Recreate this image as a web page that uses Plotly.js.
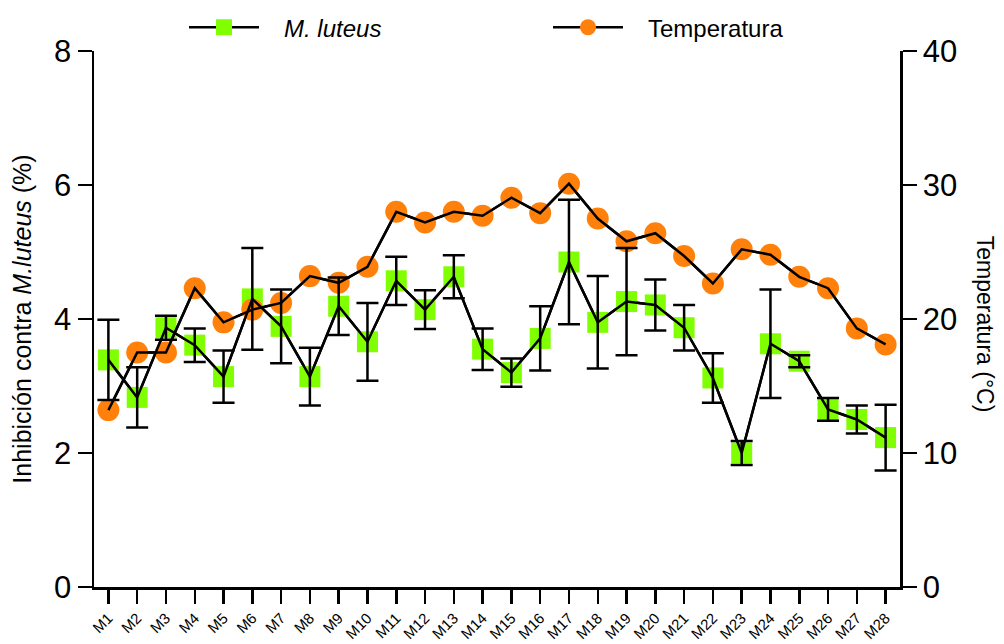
<!DOCTYPE html>
<html>
<head>
<meta charset="utf-8">
<script src="https://cdn.plot.ly/plotly-3.0.1.min.js"></script>
<style>html,body{margin:0;padding:0;background:#fff;}#chart{width:1004px;height:644px;}</style>
</head>
<body>
<div id="chart"></div>
<script>
const categories = ['M1','M2','M3','M4','M5','M6','M7','M8','M9','M10','M11','M12','M13','M14','M15','M16','M17','M18','M19','M20','M21','M22','M23','M24','M25','M26','M27','M28'];
const luteus = [3.39,2.83,3.87,3.61,3.14,4.30,3.89,3.14,4.19,3.66,4.57,4.14,4.63,3.55,3.20,3.71,4.85,3.95,4.26,4.21,3.87,3.12,2.00,3.63,3.37,2.65,2.50,2.23];
const luteusErr = [0.60,0.45,0.18,0.25,0.39,0.76,0.55,0.43,0.43,0.58,0.36,0.29,0.32,0.31,0.21,0.48,0.93,0.69,0.80,0.38,0.34,0.37,0.18,0.81,0.09,0.17,0.21,0.49];
const temperatura = [13.2,17.5,17.5,22.3,19.75,20.7,21.2,23.2,22.7,23.9,28.0,27.2,28.0,27.7,29.05,27.9,30.1,27.5,25.8,26.4,24.7,22.65,25.2,24.8,23.15,22.3,19.3,18.1];
const yTicks = [0,2,4,6,8];
const y2Ticks = [0,10,20,30,40];

const FONT = 'Liberation Sans, Arial, Helvetica, sans-serif';
const GREEN = '#80FF00';
const ORANGE = '#FF800A';
const LW = 2.5;

const traces = [
  {x: categories, y: luteus, yaxis: 'y', type: 'scatter', mode: 'lines+markers', legend: 'legend',
   name: '&nbsp;&nbsp;&nbsp;<i>M. luteus</i>', line: {color: '#000', width: LW},
   marker: {symbol: 'square', size: 21, color: GREEN}},
  {x: categories, y: temperatura, yaxis: 'y2', type: 'scatter', mode: 'lines+markers', legend: 'legend2',
   name: '&nbsp;&nbsp;&nbsp;Temperatura', line: {color: '#000', width: LW},
   marker: {symbol: 'circle', size: 22, color: ORANGE}},
  {x: categories, y: temperatura, yaxis: 'y2', type: 'scatter', mode: 'lines',
   showlegend: false, hoverinfo: 'skip', line: {color: '#000', width: LW}},
  {x: categories, y: luteus, yaxis: 'y3', type: 'scatter', mode: 'lines',
   showlegend: false, hoverinfo: 'skip', line: {color: '#000', width: LW},
   error_y: {type: 'data', array: luteusErr, visible: true, color: '#000', thickness: LW, width: 11}}
];

const legendBase = {orientation: 'h', xref: 'container', yref: 'container', y: 0.992,
  xanchor: 'left', yanchor: 'top', font: {size: 24, family: FONT}, itemwidth: 70,
  bgcolor: 'rgba(0,0,0,0)'};

const layout = {
  width: 1004, height: 644,
  margin: {l: 94, r: 104, t: 51, b: 57, pad: 0},
  paper_bgcolor: '#fff', plot_bgcolor: '#fff',
  font: {family: FONT, color: '#000'},
  showlegend: true,
  legend: Object.assign({}, legendBase, {x: 184 / 1004}),
  legend2: Object.assign({}, legendBase, {x: 548 / 1004}),
  xaxis: {type: 'category', range: [-0.5, 27.5], showgrid: false, zeroline: false,
          showline: true, linewidth: LW, linecolor: '#000', ticks: 'outside', ticklen: 14,
          tickwidth: LW, tickcolor: '#000', tickangle: -45, tickfont: {size: 15, family: FONT}},
  yaxis: {range: [0, 8], tickvals: yTicks, ticktext: yTicks.map(String), showgrid: false, zeroline: false,
          showline: true, linewidth: LW, linecolor: '#000', ticks: 'outside', ticklen: 14,
          tickwidth: LW, tickcolor: '#000', tickfont: {size: 31, family: FONT},
          title: {text: 'Inhibición contra <i>M.luteus</i> (%)', font: {size: 25, family: FONT}, standoff: 16}},
  yaxis2: {overlaying: 'y', side: 'right', range: [0, 40], tickvals: y2Ticks, ticktext: y2Ticks.map(String),
           showgrid: false, zeroline: false, showline: true, linewidth: LW, linecolor: '#000',
           ticks: 'outside', ticklen: 14, tickwidth: LW, tickcolor: '#000', tickfont: {size: 31, family: FONT}},
  yaxis3: {overlaying: 'y', range: [0, 8], visible: false, showgrid: false, zeroline: false},
  annotations: [
    {text: 'Temperatura (°C)', xref: 'paper', yref: 'paper', x: 1.105, y: 0.49, textangle: 90,
     showarrow: false, xanchor: 'center', yanchor: 'middle', font: {size: 23, family: FONT}}
  ]
};

Plotly.newPlot('chart', traces, layout, {displayModeBar: false, staticPlot: true});
</script>
</body>
</html>
